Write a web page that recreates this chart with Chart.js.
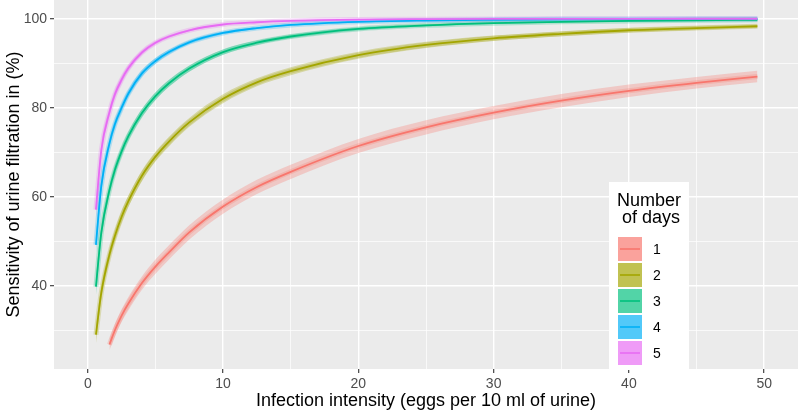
<!DOCTYPE html>
<html>
<head>
<meta charset="utf-8">
<script src="https://cdn.jsdelivr.net/npm/chart.js@4.4.0/dist/chart.umd.min.js"></script>
<style>
  html, body { margin: 0; padding: 0; background: #fff; }
  #wrap { width: 800px; height: 415px; }
</style>
</head>
<body>
<div id="wrap"><canvas id="myChart" width="800" height="415"></canvas></div>
<script>
// infection intensity (eggs per 10 ml)
const intensity = [0.6, 1, 1.6, 2, 2.5, 3, 4, 5, 6, 7.5, 10, 12.5, 15, 20, 25, 30, 35, 40, 45, 49.5];

// sensitivity (%) for each number of sampling days
const day1 = [null, null, 26.8, 30.0, 33.3, 36.0, 40.6, 44.3, 47.5, 52.0, 57.8, 62.2, 65.6, 71.4, 75.6, 78.9, 81.6, 83.8, 85.6, 87.0];
const day2 = [29.0, 38.5, 47.0, 51.2, 55.5, 59.0, 64.7, 69.0, 72.4, 76.7, 82.0, 85.7, 88.2, 91.8, 94.1, 95.6, 96.6, 97.4, 97.9, 98.3];
const day3 = [39.8, 52.0, 61.5, 66.0, 70.2, 73.6, 78.8, 82.6, 85.5, 88.8, 92.5, 94.6, 96.0, 97.7, 98.5, 99.0, 99.3, 99.5, 99.65, 99.75];
const day4 = [49.2, 62.5, 72.0, 76.3, 80.0, 83.2, 87.7, 90.5, 92.5, 94.7, 96.8, 97.9, 98.6, 99.3, 99.6, 99.75, 99.85, 99.9, 99.93, 99.95];
const day5 = [57.1, 70.5, 79.0, 83.0, 86.3, 88.9, 92.4, 94.6, 96.0, 97.4, 98.7, 99.2, 99.5, 99.8, 99.9, 99.95, 99.97, 99.98, 99.99, 99.99];

// half width of the confidence band around each curve
const band1 = [null, null, 1.3, 1.4, 1.4, 1.5, 1.5, 1.6, 1.6, 1.6, 1.6, 1.6, 1.6, 1.6, 1.6, 1.5, 1.5, 1.4, 1.3, 1.3];
const band2 = [2.0, 1.6, 1.3, 1.3, 1.3, 1.2, 1.2, 1.1, 1.1, 1.0, 1.0, 0.9, 0.9, 0.8, 0.7, 0.6, 0.55, 0.5, 0.45, 0.4];
const band3 = [2.0, 1.6, 1.2, 1.2, 1.1, 1.0, 0.9, 0.9, 0.8, 0.7, 0.6, 0.5, 0.45, 0.35, 0.25, 0.2, 0.15, 0.12, 0.1, 0.08];
const band4 = [2.0, 1.5, 1.1, 1.0, 0.9, 0.8, 0.7, 0.6, 0.5, 0.4, 0.3, 0.2, 0.15, 0.1, 0.06, 0.05, 0.04, 0.03, 0.02, 0.02];
const band5 = [2.0, 1.4, 1.0, 0.9, 0.8, 0.7, 0.5, 0.4, 0.3, 0.2, 0.12, 0.08, 0.06, 0.04, 0.03, 0.02, 0.02, 0.01, 0.01, 0.01];

const dayLabels = ['1', '2', '3', '4', '5'];
const dayColors = ['#F8766D', '#A3A500', '#00BF7D', '#00B0F6', '#E76BF3'];

const xGrid = [0, 5, 10, 15, 20, 25, 30, 35, 40, 45, 50];
const xTickLabels = [0, 10, 20, 30, 40, 50];
const yGrid = [30, 40, 50, 60, 70, 80, 90, 100];
const yTickLabels = [40, 60, 80, 100];

const FONT = '"Liberation Sans", Arial, sans-serif';

function rgba(hex, a) {
  const n = parseInt(hex.slice(1), 16);
  return 'rgba(' + (n >> 16) + ',' + ((n >> 8) & 255) + ',' + (n & 255) + ',' + a + ')';
}

function points(values, shift, sign) {
  const out = [];
  intensity.forEach(function(x, i) {
    if (values[i] === null) return;
    const d = shift ? sign * shift[i] : 0;
    out.push({ x: x, y: values[i] + d });
  });
  return out;
}

const series = [day1, day2, day3, day4, day5];
const bands = [band1, band2, band3, band4, band5];

const datasets = [];
series.forEach(function(values, i) {
  const col = dayColors[i];
  datasets.push({
    label: 'lo' + i, data: points(values, bands[i], -1),
    borderWidth: 0, pointRadius: 0, fill: false, order: 20,
    cubicInterpolationMode: 'monotone'
  });
  datasets.push({
    label: 'hi' + i, data: points(values, bands[i], 1),
    borderWidth: 0, pointRadius: 0, fill: '-1', order: 20,
    backgroundColor: rgba(col, 0.3), cubicInterpolationMode: 'monotone'
  });
});
series.forEach(function(values, i) {
  datasets.push({
    label: 'inner' + i, data: points(values),
    borderColor: rgba(dayColors[i], 0.25), borderWidth: 5,
    pointRadius: 0, fill: false, order: 10, cubicInterpolationMode: 'monotone'
  });
});
series.forEach(function(values, i) {
  datasets.push({
    label: dayLabels[i], data: points(values),
    borderColor: dayColors[i], borderWidth: 1.8,
    pointRadius: 0, fill: false, order: 5 - i, cubicInterpolationMode: 'monotone'
  });
});

const panelBg = {
  id: 'panelBg',
  beforeDraw(chart) {
    const a = chart.chartArea;
    const ctx = chart.ctx;
    ctx.save();
    ctx.fillStyle = '#EBEBEB';
    ctx.fillRect(a.left, a.top, a.right - a.left, a.bottom - a.top);
    ctx.restore();
  }
};

const dayLegend = {
  id: 'dayLegend',
  afterDraw(chart) {
    const ctx = chart.ctx;
    ctx.save();
    ctx.fillStyle = '#FFFFFF';
    ctx.fillRect(609, 182, 80, 188);
    ctx.fillStyle = '#000';
    ctx.font = '18px ' + FONT;
    ctx.textAlign = 'center';
    ctx.textBaseline = 'alphabetic';
    ctx.fillText('Number', 649, 206);
    ctx.fillText('of days', 651, 222.5);
    ctx.font = '14px ' + FONT;
    ctx.textAlign = 'left';
    ctx.textBaseline = 'middle';
    dayLabels.forEach(function(lab, i) {
      const top = 237 + 26 * i;
      ctx.fillStyle = rgba(dayColors[i], 0.68);
      ctx.fillRect(618, top, 24, 24);
      ctx.strokeStyle = rgba(dayColors[i], 0.8);
      ctx.lineWidth = 2;
      ctx.beginPath();
      ctx.moveTo(620, top + 12);
      ctx.lineTo(640, top + 12);
      ctx.stroke();
      ctx.fillStyle = '#000';
      ctx.fillText(lab, 653, top + 13);
    });
    ctx.restore();
  }
};

function gridOpts(labels) {
  return {
    color: '#FFFFFF',
    lineWidth: function(c) { return c.tick && labels.indexOf(c.tick.value) >= 0 ? 1.4 : 0.7; },
    tickColor: function(c) { return c.tick && labels.indexOf(c.tick.value) >= 0 ? '#333333' : 'rgba(0,0,0,0)'; },
    tickWidth: 1.1,
    tickLength: 4,
    drawTicks: true
  };
}

const ctx = document.getElementById('myChart').getContext('2d');
const chart = new Chart(ctx, {
  type: 'line',
  data: { datasets: datasets },
  options: {
    responsive: false,
    devicePixelRatio: 1,
    animation: false,
    layout: { padding: { top: 0, right: 2, left: 0, bottom: 0 } },
    plugins: { legend: { display: false }, tooltip: { enabled: false } },
    scales: {
      x: {
        type: 'linear', min: -2.5, max: 52.5,
        afterBuildTicks: function(s) { s.ticks = xGrid.map(function(v) { return { value: v }; }); },
        afterFit: function(s) { s.height = 46; s.paddingLeft = 0; s.paddingRight = 0; },
        grid: gridOpts(xTickLabels),
        border: { display: false },
        ticks: {
          autoSkip: false, maxRotation: 0, padding: 3, color: '#4D4D4D',
          font: { family: FONT, size: 14 },
          callback: function(v) { return xTickLabels.indexOf(v) >= 0 ? String(v) : ''; }
        },
        title: {
          display: true, text: 'Infection intensity (eggs per 10 ml of urine)',
          color: '#000', font: { family: FONT, size: 18 }, padding: { top: 0, bottom: 3 }
        }
      },
      y: {
        type: 'linear', min: 21.3, max: 104.2,
        afterBuildTicks: function(s) { s.ticks = yGrid.map(function(v) { return { value: v }; }); },
        afterFit: function(s) { s.width = 54; s.paddingTop = 0; s.paddingBottom = 0; },
        grid: gridOpts(yTickLabels),
        border: { display: false },
        ticks: {
          autoSkip: false, padding: 3, color: '#4D4D4D',
          font: { family: FONT, size: 14 },
          callback: function(v) { return yTickLabels.indexOf(v) >= 0 ? String(v) : ''; }
        },
        title: {
          display: true, text: 'Sensitivity of urine filtration in (%)',
          color: '#000', font: { family: FONT, size: 18 }, padding: { top: 3, bottom: 0 }
        }
      }
    }
  },
  plugins: [panelBg, dayLegend]
});
</script>
</body>
</html>
